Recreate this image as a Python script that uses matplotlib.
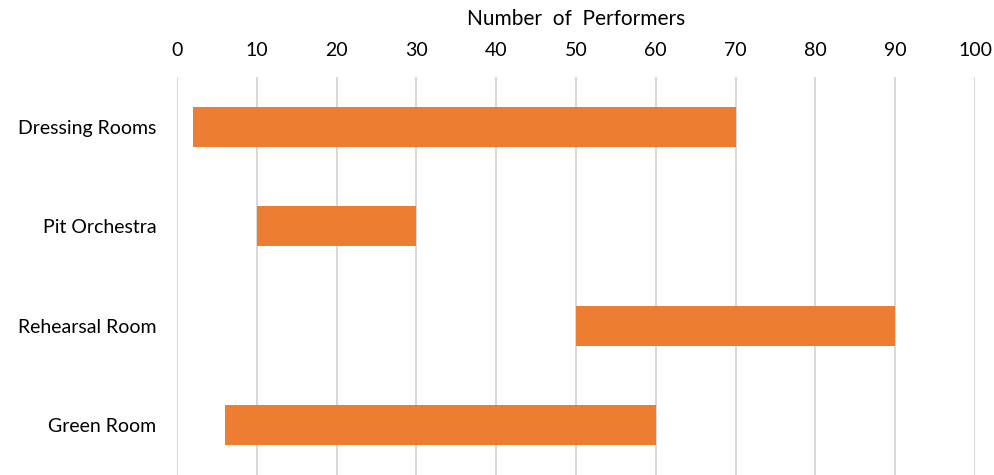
import matplotlib
matplotlib.use("Agg")
import matplotlib.pyplot as plt

categories = ["Dressing Rooms", "Pit Orchestra", "Rehearsal Room", "Green Room"]
starts = [2, 10, 50, 6]
ends = [70, 30, 90, 60]
xticks = [0, 10, 20, 30, 40, 50, 60, 70, 80, 90, 100]

plt.rcParams['font.family'] = ['Lato', 'DejaVu Sans']

fig = plt.figure(figsize=(9.95, 4.75), dpi=100)
ax = fig.add_axes([177/995, 0, (975-177)/995, 1 - 77/475])

widths = [e - s for s, e in zip(starts, ends)]
ax.barh(range(len(categories)), widths, left=starts, height=0.4, color="#ED7D31", zorder=3)

ax.set_xlim(0, 100)
ax.set_ylim(3.5, -0.5)
ax.set_xticks(xticks)
ax.set_xticklabels([str(t) for t in xticks])
ax.set_yticks(range(len(categories)))
ax.set_yticklabels(categories)
ax.xaxis.tick_top()
ax.xaxis.set_label_position("top")
ax.set_xlabel("Number  of  Performers", fontsize=15, labelpad=12, color="#000000")
ax.tick_params(axis="both", length=0, labelsize=14, colors="#000000")
ax.tick_params(axis="x", pad=13)
ax.tick_params(axis="y", pad=15)
ax.grid(axis="x", color="#D9D9D9", linewidth=1.5, zorder=0)
for s in ax.spines.values():
    s.set_visible(False)

fig.savefig("out.png", dpi=100)
